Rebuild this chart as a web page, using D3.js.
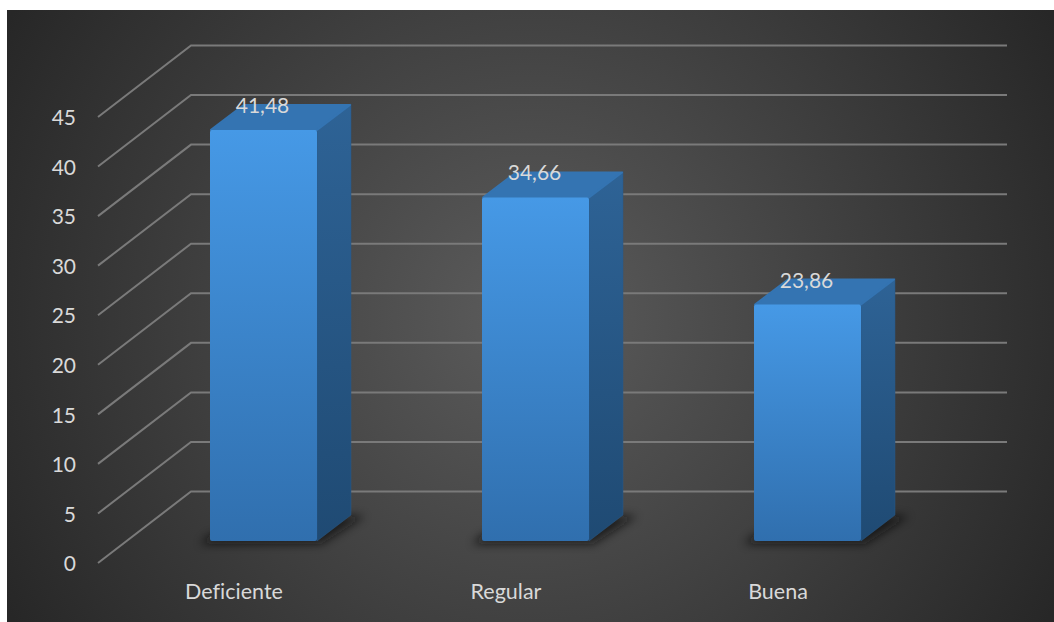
<!DOCTYPE html>
<html><head><meta charset="utf-8">
<script src="https://cdn.jsdelivr.net/npm/d3@7"></script>
<style>html,body{margin:0;padding:0;background:#fff}svg{display:block}
text{font-family:Lato,"Open Sans",sans-serif;fill:#d9d9d9;font-variant-ligatures:none;font-feature-settings:"liga" 0}</style></head>
<body><div id="chart"></div>
<script>
const categories = ["Deficiente", "Regular", "Buena"];
const values = [41.48, 34.66, 23.86];
const valueLabels = ["41,48", "34,66", "23,86"];
const yTicks = [0, 5, 10, 15, 20, 25, 30, 35, 40, 45];

const W = 1054, H = 622;
const panel = {x: 7, y: 10, w: 1047, h: 612};
const front = {left: 98, right: 914, bottom: 563, top: 117};
const depth = {dx: 93, dy: -71.5};
const barDepth = {dx: 34, dy: -26, ox: 29.5, oy: -22};

const y = d3.scaleLinear().domain([0, 45]).range([front.bottom, front.top]);
const x = d3.scaleBand().domain(categories).range([front.left, front.right]);
const barW = 107;

const svg = d3.select("#chart").append("svg").attr("width", W).attr("height", H);
const defs = svg.append("defs");

const bg = defs.append("radialGradient").attr("id", "bg")
  .attr("gradientUnits", "userSpaceOnUse")
  .attr("cx", panel.x + panel.w / 2).attr("cy", panel.y + panel.h / 2).attr("r", 600);
bg.append("stop").attr("offset", 0).attr("stop-color", "#5c5c5c");
bg.append("stop").attr("offset", 1).attr("stop-color", "#272727");

const fg = defs.append("linearGradient").attr("id", "frontFace").attr("x1", 0).attr("y1", 0).attr("x2", 0).attr("y2", 1);
fg.append("stop").attr("offset", 0).attr("stop-color", "#4699e6");
fg.append("stop").attr("offset", 1).attr("stop-color", "#306fae");
const sg = defs.append("linearGradient").attr("id", "sideFace").attr("x1", 0).attr("y1", 0).attr("x2", 0).attr("y2", 1);
sg.append("stop").attr("offset", 0).attr("stop-color", "#2e6396");
sg.append("stop").attr("offset", 1).attr("stop-color", "#1f4a73");
defs.append("filter").attr("id", "blur").attr("x", "-30%").attr("y", "-60%").attr("width", "160%").attr("height", "220%")
  .append("feGaussianBlur").attr("stdDeviation", 5);

svg.append("rect").attr("x", panel.x).attr("y", panel.y).attr("width", panel.w).attr("height", panel.h).attr("fill", "url(#bg)");

const grid = svg.append("g").attr("fill", "none").attr("stroke", "#7a7a7a").attr("stroke-width", 2);
grid.selectAll("path").data(yTicks).join("path")
  .attr("d", t => {
    const p = d3.path();
    p.moveTo(front.left, y(t));
    p.lineTo(front.left + depth.dx, y(t) + depth.dy);
    p.lineTo(front.right + depth.dx, y(t) + depth.dy);
    return p.toString();
  });

const yAxis = d3.axisLeft(y).tickValues(yTicks).tickSize(0).tickPadding(22);
const yG = svg.append("g").attr("transform", `translate(${front.left},1)`).call(yAxis);
yG.select(".domain").remove();
yG.selectAll("text").style("font-size", "21px").style("font-family", "Lato");

const xAxis = d3.axisBottom(x).tickSize(0).tickPadding(21);
const xG = svg.append("g").attr("transform", `translate(0,${front.bottom})`).call(xAxis);
xG.select(".domain").remove();
xG.selectAll("text").style("font-size", "21.5px").style("font-family", "Lato");

const bx = c => x(c) + barDepth.ox + (x.bandwidth() - barW) / 2;
const by0 = y(0) + barDepth.oy;
const barH = v => y(0) - y(v);

const bars = svg.append("g").selectAll("g").data(categories.map((c, i) => ({c, v: values[i], l: valueLabels[i]}))).join("g");
bars.append("path").attr("fill", "#0d0d0d").attr("opacity", .7).attr("filter", "url(#blur)")
  .attr("d", d => {
    const a = bx(d.c), r = a + barW;
    return `M${a - 10},${by0 + 3}L${r + 4},${by0 + 3}L${r + barDepth.dx + 14},${by0 + barDepth.dy + 1}L${r},${by0 + barDepth.dy}L${a},${by0 - 6}Z`;
  });
bars.append("path").attr("fill", "url(#sideFace)").attr("stroke", "#2a5a88").attr("stroke-width", .5).attr("d", d => {
  const r = bx(d.c) + barW, t = by0 - barH(d.v);
  return `M${r},${t}L${r + barDepth.dx},${t + barDepth.dy}V${by0 + barDepth.dy}L${r},${by0}Z`;
});
bars.append("path").attr("fill", "#3474b2").attr("stroke", "#3474b2").attr("stroke-width", 2).attr("stroke-linejoin", "round").attr("d", d => {
  const a = bx(d.c), t = by0 - barH(d.v);
  return `M${a + 1},${t}L${a + barDepth.dx},${t + barDepth.dy + 1}H${a + barW + barDepth.dx - 1}L${a + barW},${t}Z`;
});
bars.append("rect").attr("x", d => bx(d.c)).attr("y", d => by0 - barH(d.v))
  .attr("width", barW).attr("height", d => barH(d.v)).attr("rx", 2).attr("fill", "url(#frontFace)");
bars.append("text").attr("x", d => bx(d.c) + barW / 2 - 1).attr("y", d => by0 - barH(d.v) - 17)
  .attr("text-anchor", "middle").style("font-size", "21px").text(d => d.l);
</script></body></html>
